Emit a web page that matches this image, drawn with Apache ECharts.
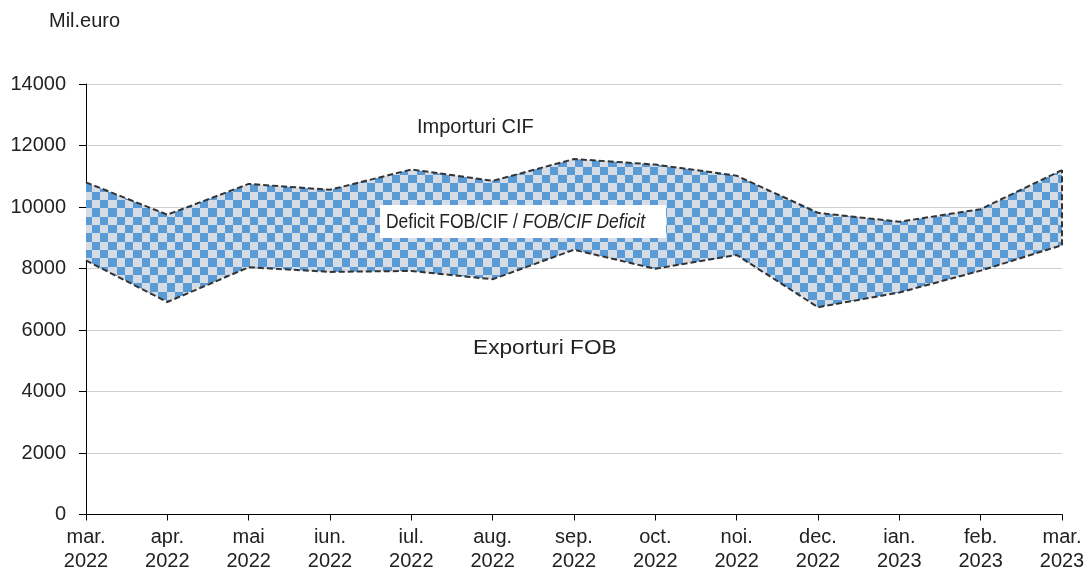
<!DOCTYPE html>
<html>
<head>
<meta charset="utf-8">
<script src="https://cdn.jsdelivr.net/npm/echarts@6/dist/echarts.min.js"></script>
<style>html,body{margin:0;padding:0;background:#fff}#c{width:1088px;height:572px}</style>
</head>
<body>
<div id="c"></div>
<script>
var categories = ['mar.\n2022','apr.\n2022','mai\n2022','iun.\n2022','iul.\n2022','aug.\n2022','sep.\n2022','oct.\n2022','noi.\n2022','dec.\n2022','ian.\n2023','feb.\n2023','mar.\n2023'];
var importuri = [10800, 9750, 10750, 10560, 11220, 10850, 11560, 11380, 11020, 9810, 9520, 9930, 11200];
var exporturi = [8260, 6910, 8040, 7890, 7920, 7650, 8610, 7990, 8440, 6740, 7220, 7930, 8760];
var yTicks = [0, 2000, 4000, 6000, 8000, 10000, 12000, 14000];

var deficit = importuri.map(function (v, i) { return v - exporturi[i]; });

var cell = 8.33;
var tile = document.createElement('canvas');
tile.width = 50; tile.height = 50;
var g = tile.getContext('2d');
g.fillStyle = '#d6dce6';
g.fillRect(0, 0, 50, 50);
g.fillStyle = '#5b9bd5';
for (var r = 0; r < 6; r++) for (var c = 0; c < 6; c++) if ((r + c) % 2 === 0) g.fillRect(Math.round(c * cell), Math.round(r * cell), Math.round((c + 1) * cell) - Math.round(c * cell), Math.round((r + 1) * cell) - Math.round(r * cell));

var font = '"Liberation Sans", Arial, sans-serif';
var chart = echarts.init(document.getElementById('c'), null, { renderer: 'canvas' });
var last = categories.length - 1;
chart.setOption({
  animation: false,
  grid: { left: 86, right: 26, top: 84, bottom: 57.5, containLabel: false, outerBoundsMode: 'none' },
  xAxis: {
    type: 'category', data: categories, boundaryGap: false,
    axisLine: { lineStyle: { color: '#000', width: 1 } },
    axisTick: { show: true, length: 6, alignWithLabel: true, lineStyle: { color: '#000' } },
    axisLabel: { color: '#222', fontSize: 20, fontFamily: font, lineHeight: 24, margin: 11, interval: 0 },
    splitLine: { show: false }
  },
  yAxis: {
    type: 'value', min: yTicks[0], max: yTicks[yTicks.length - 1], interval: 2000,
    axisLine: { show: true, lineStyle: { color: '#000', width: 1 } },
    axisTick: { show: true, length: 7, lineStyle: { color: '#000' } },
    axisLabel: { color: '#222', fontSize: 20, fontFamily: font, margin: 20, formatter: function (v) { return String(v); } },
    splitLine: { lineStyle: { color: '#d0d0d0', width: 1 } }
  },
  graphic: [
    { type: 'text', x: 49, y: 11, style: { text: 'Mil.euro', font: '20px ' + font, fill: '#222' } },
    { type: 'text', x: 417, y: 117, style: { text: 'Importuri CIF', font: '20px ' + font, fill: '#222' } },
    { type: 'text', x: 473, y: 338, scaleX: 1.08, style: { text: 'Exporturi FOB', font: '21px ' + font, fill: '#222' } },
    { type: 'rect', shape: { x: 380, y: 205, width: 286, height: 33 }, style: { fill: '#fff' }, z: 50 },
    { type: 'text', x: 386, y: 212, scaleX: 0.873, z: 51, style: {
        text: '{n|Deficit FOB/CIF / }{i|FOB/CIF Deficit}',
        rich: {
          n: { fontSize: 20, fontFamily: font, fill: '#222' },
          i: { fontSize: 20, fontStyle: 'italic', fontFamily: font, fill: '#222' }
        } } }
  ],
  series: [
    {
      name: 'Exporturi FOB', type: 'line', stack: 'd', data: exporturi, symbol: 'none',
      lineStyle: { color: '#333', width: 2, type: [6, 3] }, z: 5
    },
    {
      name: 'Deficit', type: 'line', stack: 'd', data: deficit, symbol: 'none',
      lineStyle: { color: '#333', width: 2, type: [6, 3] },
      areaStyle: { color: { image: tile, repeat: 'repeat' }, opacity: 1 }, z: 4,
      markLine: {
        silent: true, symbol: 'none', label: { show: false },
        lineStyle: { color: '#333', width: 2, type: [6, 3] },
        data: [[{ coord: [last, exporturi[last]] }, { coord: [last, importuri[last]] }]]
      }
    }
  ]
});
</script>
</body>
</html>
